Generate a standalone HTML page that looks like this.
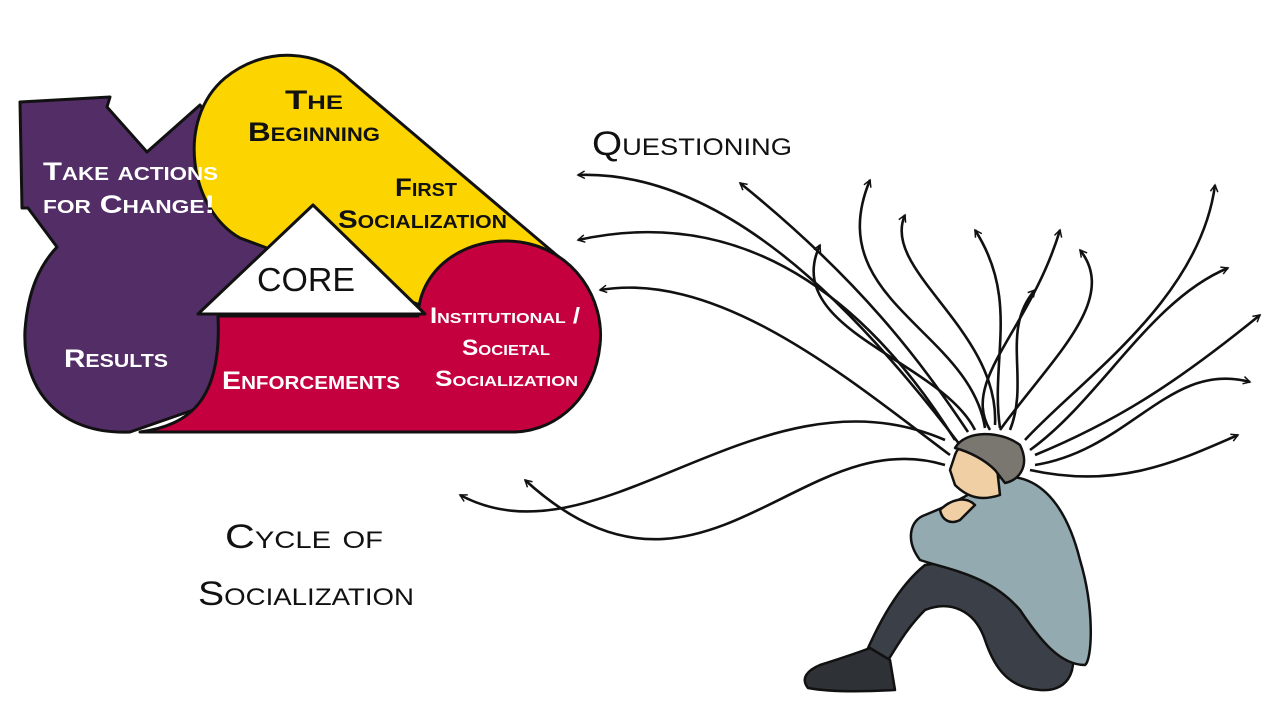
<!DOCTYPE html>
<html><head><meta charset="utf-8"><style>
html,body{margin:0;padding:0;background:#fff}
svg{display:block}
text{font-family:"Liberation Sans",sans-serif;font-variant:small-caps;font-weight:bold}
text.n{font-weight:normal}
</style></head><body>
<svg width="1280" height="720" viewBox="0 0 1280 720" xmlns="http://www.w3.org/2000/svg">
<defs>
<marker id="a" viewBox="0 0 12 12" refX="10" refY="6" markerWidth="9" markerHeight="9" orient="auto" markerUnits="userSpaceOnUse">
<path d="M1,1 L10,6 L1,11" fill="none" stroke="#111" stroke-width="2"/></marker>
</defs>
<rect width="1280" height="720" fill="#fff"/>
<g stroke="#111" stroke-width="3" stroke-linejoin="round">
<path fill="#532d66" d="M20,102 L110,97 L107,107 L147,152 L200,105 L290,240 L225,320 L222,400 L130,432 C60,435 22,390 25,330 C28,290 40,265 57,247 L28,208 L22,208 Z"/>
<path fill="#fcd500" d="M240,238 C190,210 175,120 225,78 C265,45 320,50 350,80 L560,258 L420,305 Z"/>
<path fill="#c5003e" d="M218,316 L418,316 C420,265 470,235 520,242 C575,250 605,300 600,345 C595,395 560,430 515,432 L140,432 C190,425 222,400 218,316 Z"/>
<path fill="#fff" d="M313,205 L198,314 L425,314 Z"/>
</g>
<g fill="#111" font-size="27">
<text x="285" y="109" textLength="58" lengthAdjust="spacingAndGlyphs">The</text>
<text x="248" y="141" textLength="132" lengthAdjust="spacingAndGlyphs">Beginning</text>
<text x="395" y="196" font-size="25" textLength="62" lengthAdjust="spacingAndGlyphs">First</text>
<text x="338" y="228" font-size="25" textLength="169" lengthAdjust="spacingAndGlyphs">Socialization</text>
<text class="n" x="257" y="291" font-size="33" textLength="98" lengthAdjust="spacingAndGlyphs">CORE</text>
</g>
<g fill="#fff" font-size="25">
<text x="43" y="180" textLength="175" lengthAdjust="spacingAndGlyphs">Take actions</text>
<text x="43" y="213" textLength="172" lengthAdjust="spacingAndGlyphs">for Change!</text>
<text x="64" y="367" textLength="104" lengthAdjust="spacingAndGlyphs">Results</text>
<text x="222" y="389" textLength="178" lengthAdjust="spacingAndGlyphs">Enforcements</text>
<text x="430" y="323" font-size="22" textLength="150" lengthAdjust="spacingAndGlyphs">Institutional /</text>
<text x="462" y="355" font-size="22" textLength="88" lengthAdjust="spacingAndGlyphs">Societal</text>
<text x="435" y="386" font-size="22" textLength="143" lengthAdjust="spacingAndGlyphs">Socialization</text>
</g>
<g fill="#111" font-size="34">
<text class="n" x="592" y="155" textLength="200" lengthAdjust="spacingAndGlyphs">Questioning</text>
<text class="n" x="225" y="548" textLength="158" lengthAdjust="spacingAndGlyphs">Cycle of</text>
<text class="n" x="198" y="605" textLength="216" lengthAdjust="spacingAndGlyphs">Socialization</text>
</g>
<g fill="none" stroke="#111" stroke-width="2.6" marker-end="url(#a)">
<path d="M960,445 C850,300 720,170 578,175"/>
<path d="M955,440 C880,320 760,200 578,240"/>
<path d="M950,455 C850,380 720,270 600,290"/>
<path d="M945,440 C760,360 600,570 460,495"/>
<path d="M945,465 C800,420 700,640 525,480"/>
<path d="M968,432 C920,360 860,280 740,183"/>
<path d="M975,430 C940,360 780,330 820,245"/>
<path d="M985,428 C970,330 820,300 870,180"/>
<path d="M995,425 C1000,330 880,270 905,215"/>
<path d="M1000,428 C990,360 1020,300 975,230"/>
<path d="M1010,430 C1030,380 1000,330 1035,290"/>
<path d="M1025,440 C1080,380 1200,300 1215,185"/>
<path d="M1030,450 C1100,400 1150,300 1228,268"/>
<path d="M1035,455 C1120,420 1180,380 1260,315"/>
<path d="M1035,465 C1130,450 1170,360 1250,382"/>
<path d="M1030,470 C1120,490 1180,460 1238,435"/>
<path d="M1000,430 C1050,360 1120,300 1080,250"/>
<path d="M990,430 C960,380 1030,330 1060,230"/>
</g>
<g stroke="#111" stroke-width="2.5" stroke-linejoin="round">
<path fill="#3b3f47" d="M960,560 C1010,565 1050,600 1070,640 C1080,675 1065,692 1040,690 C1010,688 995,670 985,640 C975,610 950,600 925,610 C905,630 895,650 885,665 L865,655 C880,620 900,585 925,565 Z"/>
<path fill="#2e3136" d="M820,665 C845,657 860,652 870,648 L890,660 L895,690 C860,692 830,692 808,688 C800,678 808,670 820,665 Z"/>
<path fill="#93aab0" d="M995,478 C1035,470 1065,500 1080,560 C1095,610 1092,660 1085,665 C1060,665 1040,640 1020,610 C990,575 950,570 920,560 C905,540 910,520 925,515 C950,505 970,495 995,478 Z"/>
<path fill="#f1cfa5" d="M940,510 C950,500 965,495 975,505 L960,520 C950,525 942,520 940,510 Z"/>
<path fill="#f1cfa5" d="M955,455 C960,440 980,440 995,450 L1000,495 C985,500 970,500 955,485 L950,470 Z"/>
<path fill="#7a7670" d="M955,448 C965,430 1000,430 1020,445 C1030,465 1020,480 1005,483 L995,470 C985,460 970,452 955,448 Z"/>
</g>
</svg>
</body></html>
